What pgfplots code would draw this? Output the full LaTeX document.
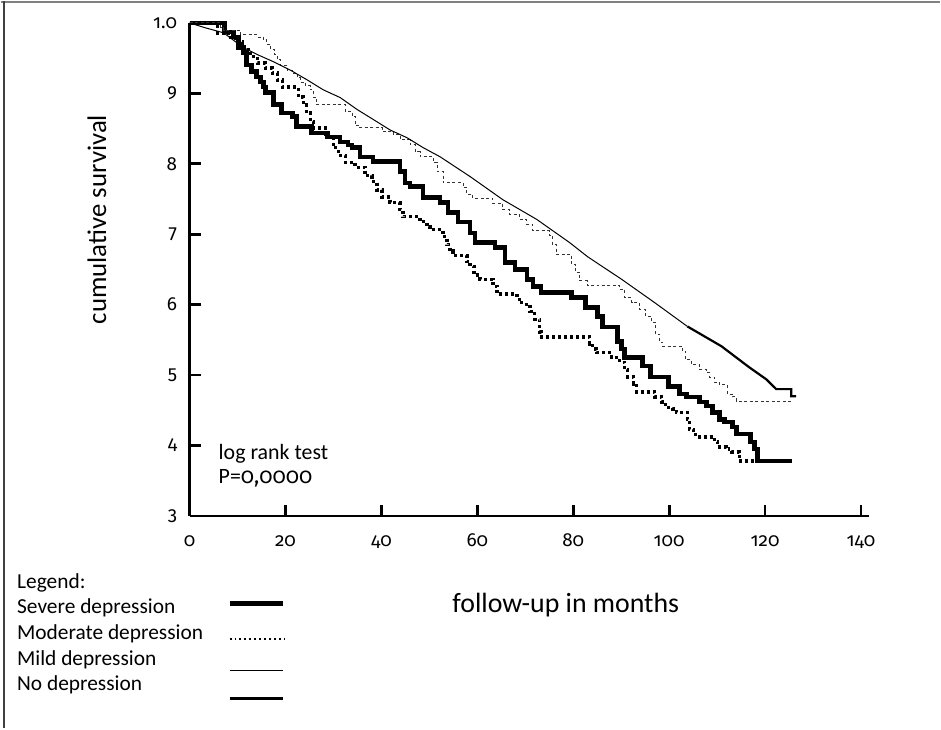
\documentclass[border=0pt]{standalone}
\usepackage{fontspec}
\setmainfont{Carlito}
\newfontfamily\numfont{Fira Sans}[Numbers=OldStyle]
\usepackage{pgfplots}
\pgfplotsset{compat=1.18}
\begin{document}
\begin{tikzpicture}
\begin{axis}[
  at={(0,0)}, anchor=south west,
  scale only axis, width=681bp, height=494bp,
  xmin=0, xmax=141.7, ymin=0.3, ymax=1.0,
  axis lines*=left,
  axis line style={line width=2.8bp},
  clip=false,
  xtick={0,20,40,60,80,100,120,140},
  xticklabels={0,20,40,60,80,100,120,140},
  ytick={0.3,0.4,0.5,0.6,0.7,0.8,0.9,1.0},
  yticklabels={3,4,5,6,7,8,9,1.0},
  tick align=inside, major tick length=11bp,
  every tick/.style={line width=2.8bp, black},
  ticklabel style={font=\numfont\fontsize{19}{21}\selectfont},
  xticklabel style={anchor=base, yshift=-31bp},
  yticklabel style={anchor=east, xshift=-9bp},
  /pgf/number format/assume math mode=true,
]
% Severe depression
\addplot[const plot, line width=4.5bp, black] coordinates {
(0,1.000) (7.28,0.987) (9.15,0.980) (10.19,0.965) (11.23,0.958) (11.86,0.940) (12.90,0.931) (13.94,0.923) (14.77,0.916) (15.39,0.909) (15.81,0.901) (17.47,0.884) (19.14,0.872) (21.43,0.867) (22.26,0.853) (25.38,0.844) (28.71,0.838) (31.41,0.831) (33.08,0.827) (33.91,0.823) (35.57,0.810) (38.28,0.803) (43.89,0.789) (44.93,0.773) (45.97,0.768) (48.68,0.752) (52.22,0.745) (53.88,0.731) (55.96,0.717) (58.46,0.702) (59.50,0.688) (63.66,0.681) (65.74,0.660) (67.82,0.650) (70.31,0.636) (71.56,0.626) (73.23,0.617) (79.68,0.610) (82.59,0.596) (85.08,0.583) (86.12,0.568) (89.25,0.548) (90.08,0.537) (90.70,0.525) (94.45,0.513) (96.11,0.497) (99.85,0.484) (102.14,0.473) (103.60,0.469) (106.30,0.462) (107.76,0.456) (109.01,0.447) (110.46,0.437) (111.50,0.433) (113.17,0.426) (114.00,0.416) (116.91,0.405) (117.75,0.395) (118.37,0.378) (125.65,0.378)
};
% Moderate depression
\addplot[const plot, line width=3.4bp, black, dash pattern=on 3bp off 3bp] coordinates {
(0,1.000) (5.82,0.986) (8.11,0.979) (9.57,0.973) (11.03,0.962) (12.69,0.952) (14.15,0.943) (15.81,0.936) (17.27,0.929) (18.31,0.919) (19.35,0.909) (22.68,0.895) (23.72,0.884) (24.34,0.872) (25.17,0.860) (25.80,0.851) (28.29,0.837) (29.96,0.823) (31.00,0.812) (32.45,0.802) (34.53,0.795) (36.61,0.783) (38.07,0.775) (39.11,0.763) (40.15,0.753) (41.81,0.745) (43.89,0.735) (44.52,0.725) (48.05,0.718) (49.51,0.711) (50.14,0.707) (52.84,0.697) (53.67,0.685) (54.30,0.676) (54.92,0.670) (57.83,0.661) (58.46,0.654) (59.29,0.642) (60.54,0.636) (63.24,0.626) (64.07,0.615) (68.23,0.607) (69.27,0.600) (70.94,0.590) (71.98,0.579) (73.02,0.561) (73.43,0.554) (83.42,0.544) (84.04,0.537) (84.88,0.532) (88.00,0.525) (89.66,0.518) (90.70,0.508) (91.33,0.497) (92.58,0.487) (93.20,0.476) (96.94,0.469) (98.40,0.462) (99.23,0.454) (100.69,0.452) (101.52,0.447) (103.81,0.437) (104.22,0.423) (105.05,0.416) (106.30,0.412) (109.42,0.405) (110.05,0.398) (111.92,0.395) (112.96,0.391) (114.62,0.378) (125.65,0.378)
};
% Mild depression
\addplot[const plot, line width=0.9bp, black!80, dash pattern=on 3bp off 2.5bp] coordinates {
(0,1.000) (6.45,0.994) (7.07,0.990) (10.61,0.983) (14.15,0.980) (15.39,0.976) (16.02,0.969) (16.85,0.962) (17.68,0.955) (18.31,0.948) (18.93,0.939) (20.39,0.933) (21.43,0.928) (22.47,0.922) (23.09,0.916) (24.13,0.911) (25.17,0.905) (25.80,0.894) (26.42,0.884) (32.45,0.874) (33.91,0.867) (34.53,0.855) (35.16,0.851) (40.15,0.846) (42.44,0.841) (43.89,0.834) (45.97,0.827) (47.01,0.817) (48.05,0.810) (50.76,0.802) (51.59,0.789) (52.84,0.773) (57.00,0.766) (57.83,0.756) (59.08,0.751) (63.24,0.744) (65.32,0.735) (66.78,0.728) (68.86,0.721) (70.31,0.714) (71.56,0.705) (75.10,0.698) (75.72,0.685) (76.56,0.671) (79.68,0.657) (80.51,0.646) (81.34,0.634) (83.00,0.627) (89.66,0.622) (90.70,0.610) (92.16,0.603) (93.82,0.593) (95.07,0.583) (96.32,0.575) (97.15,0.558) (97.98,0.547) (98.61,0.541) (102.77,0.534) (103.39,0.522) (104.64,0.515) (106.30,0.508) (107.76,0.504) (108.38,0.497) (109.42,0.490) (110.46,0.486) (112.13,0.473) (113.17,0.469) (114.00,0.463) (125.65,0.463)
};
% No depression
\addplot[line width=1bp, black] coordinates {
(0,1.000) (3.33,0.993) (7.07,0.986) (11.23,0.965) (14.15,0.955) (17.47,0.945) (21.01,0.933) (24.55,0.919) (27.88,0.905) (31.41,0.894) (34.95,0.877) (38.28,0.863) (41.81,0.848) (45.35,0.837) (48.68,0.823) (52.22,0.810) (58.46,0.782) (65.32,0.749) (72.39,0.721) (79.26,0.688) (83.00,0.668) (90.08,0.636) (96.94,0.603) (103.81,0.569)
};
\addplot[line width=2.2bp, black] coordinates {
(103.81,0.569) (110.88,0.541) (116.70,0.511) (120.24,0.494) (122.32,0.480) (125.44,0.480) (125.44,0.470) (126.48,0.470)
};
\end{axis}
% frame
\draw[black!50, line width=2bp] (-189bp,515bp) -- (752bp,515bp);
\draw[black!75, line width=1.5bp] (-186bp,-213bp) -- (-186bp,516bp);
% axis labels
\node[rotate=90, font=\fontsize{27}{30}\selectfont] at (-93bp,297bp) {cumulative survival};
\node[font=\fontsize{28}{32}\selectfont] at (377bp,-89bp) {follow-up in months};
% annotation
\node[anchor=base west, inner sep=0, font=\fontsize{22}{24}\selectfont] at (29bp,57bp) {log rank test};
\node[anchor=base west, inner sep=0, font=\fontsize{22}{24}\selectfont] at (29bp,32bp) {P={\numfont 0,0000}};
% legend
\begin{scope}[every node/.style={anchor=base west, inner sep=0, font=\fontsize{21.5}{24}\selectfont}]
\node at (-173bp,-73bp) {Legend:};
\node at (-173bp,-98bp) {Severe depression};
\node at (-173bp,-124bp) {Moderate depression};
\node at (-173bp,-150bp) {Mild depression};
\node at (-173bp,-175bp) {No depression};
\end{scope}
\draw[line width=4.5bp] (40bp,-88bp) -- (94bp,-88bp);
\draw[line width=2bp, dash pattern=on 2bp off 3bp] (40bp,-123bp) -- (96bp,-123bp);
\draw[line width=0.9bp] (40bp,-155bp) -- (94bp,-155bp);
\draw[line width=3bp] (40bp,-183bp) -- (94bp,-183bp);
\path[use as bounding box] (-189bp,-213bp) rectangle (752bp,517bp);
\end{tikzpicture}
\end{document}
